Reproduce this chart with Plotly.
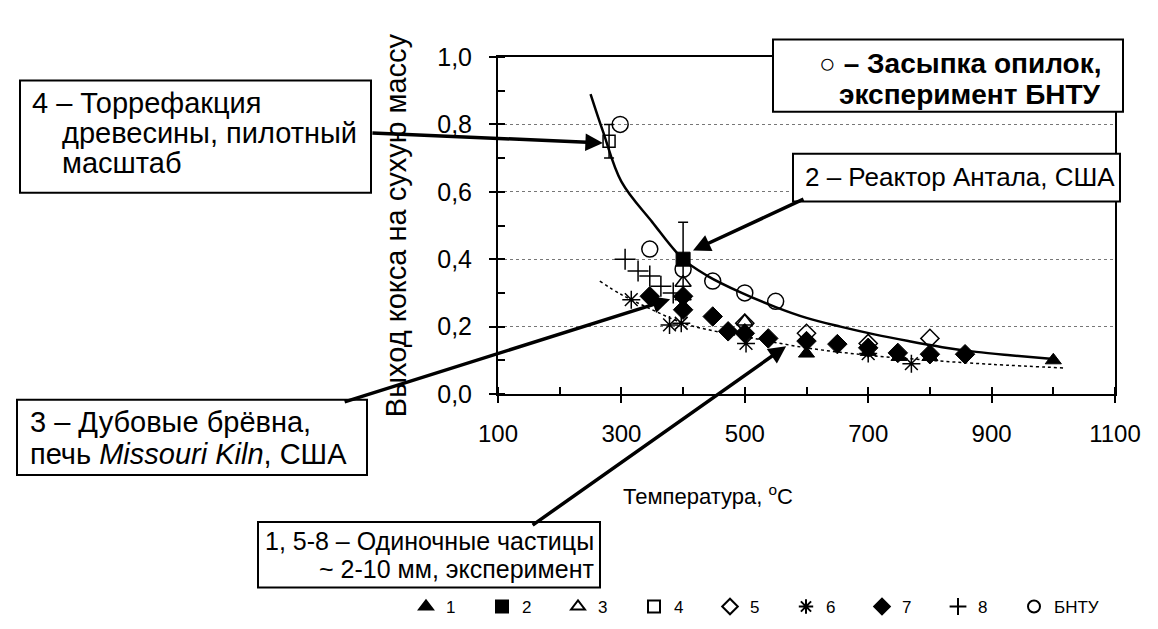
import plotly.graph_objects as go

# ---- axis ticks ----
x_ticks = [100, 200, 300, 400, 500, 600, 700, 800, 900, 1000, 1100]
x_labels = ["100", "", "300", "", "500", "", "700", "", "900", "", "1100"]
y_ticks = [0.0, 0.1, 0.2, 0.3, 0.4, 0.5, 0.6, 0.7, 0.8, 0.9, 1.0]
y_labels = ["0,0", "", "0,2", "", "0,4", "", "0,6", "", "0,8", "", "1,0"]
y_grid = [0.2, 0.4, 0.6, 0.8]

# ---- series ----
s1_x = [600, 700, 750, 800, 1000]
s1_y = [0.12, 0.125, 0.11, 0.11, 0.10]

s2_x = [400]
s2_y = [0.40]
s2_err = [0.11]

s3_x = [400, 400, 500]
s3_y = [0.33, 0.29, 0.215]

s4_x = [280]
s4_y = [0.75]
s4_err = [0.05]

s5_x = [500, 600, 700, 800]
s5_y = [0.21, 0.18, 0.15, 0.165]

s6_x = [316, 378, 397, 502, 700, 770]
s6_y = [0.28, 0.205, 0.21, 0.15, 0.12, 0.09]

s7_x = [346, 400, 400, 448, 473, 500, 538, 600, 650, 700, 748, 800, 857]
s7_y = [0.29, 0.29, 0.25, 0.23, 0.186, 0.18, 0.165, 0.157, 0.148, 0.137, 0.122, 0.118, 0.118]

s8_x = [306, 327, 346, 364, 384]
s8_y = [0.40, 0.365, 0.35, 0.32, 0.30]

bntu_x = [298, 346, 400, 448, 500, 550]
bntu_y = [0.80, 0.43, 0.37, 0.335, 0.30, 0.275]

# trend lines: solid (BNTU) and dotted (particles)
fit_x = [250, 270, 300, 350, 400, 440, 495, 550, 600, 655, 710, 765, 820, 875, 930, 1000]
fit_y = [0.89, 0.78, 0.63, 0.51, 0.40, 0.35, 0.30, 0.258, 0.226, 0.20, 0.177, 0.157, 0.139, 0.125, 0.115, 0.104]

dot_x = [265, 300, 350, 400, 450, 500, 600, 700, 800, 900, 1020]
dot_y = [0.335, 0.295, 0.25, 0.21, 0.187, 0.17, 0.137, 0.115, 0.10, 0.088, 0.077]

FONT = "Liberation Sans, Arial, sans-serif"

fig = go.Figure()

fig.add_trace(go.Scatter(x=dot_x, y=dot_y, mode="lines", line=dict(color="black", width=1.5, dash="3px,3px"),
                         line_shape="spline", showlegend=False, hoverinfo="skip"))
fig.add_trace(go.Scatter(x=fit_x, y=fit_y, mode="lines", line=dict(color="black", width=2.5),
                         line_shape="spline", showlegend=False, hoverinfo="skip"))

def mk(symbol, size, filled=True):
    if filled:
        return dict(symbol=symbol, size=size, color="black", line=dict(color="black", width=1))
    return dict(symbol=symbol, size=size, color="black", line=dict(color="black", width=1.5))

fig.add_trace(go.Scatter(x=s1_x, y=s1_y, mode="markers", name="1", marker=mk("triangle-up", 14)))
fig.add_trace(go.Scatter(x=s2_x, y=s2_y, mode="markers", name="2", marker=mk("square", 14),
                         error_y=dict(type="data", array=s2_err, color="black", thickness=1.5, width=5)))
fig.add_trace(go.Scatter(x=s3_x, y=s3_y, mode="markers", name="3", marker=mk("triangle-up-open", 14, False)))
fig.add_trace(go.Scatter(x=s4_x, y=s4_y, mode="markers", name="4", marker=mk("square-open", 12, False),
                         error_y=dict(type="data", array=s4_err, color="black", thickness=1.5, width=5)))
fig.add_trace(go.Scatter(x=s5_x, y=s5_y, mode="markers", name="5", marker=mk("diamond-open", 14, False)))
fig.add_trace(go.Scatter(x=s6_x, y=s6_y, mode="markers", name="6", marker=mk("asterisk-open", 15, False)))
fig.add_trace(go.Scatter(x=s7_x, y=s7_y, mode="markers", name="7", marker=mk("diamond", 15)))
fig.add_trace(go.Scatter(x=s8_x, y=s8_y, mode="markers", name="8", marker=mk("cross-thin-open", 15, False)))
fig.add_trace(go.Scatter(x=bntu_x, y=bntu_y, mode="markers", name="БНТУ", marker=mk("circle-open", 16, False)))
# empty spacer entry so the last legend label is not clipped
fig.add_trace(go.Scatter(x=[None], y=[None], mode="markers", name=" ",
                         marker=dict(color="rgba(0,0,0,0)", line=dict(width=0, color="rgba(0,0,0,0)")),
                         hoverinfo="skip"))

# plot area in pixels
L, R, T, B = 490, 51, 49, 235
W, H = 1158, 629
PW, PH = W - L - R, H - T - B

def px(xp):
    return (xp - L) / PW

def py(yp):
    return (H - B - yp) / PH

def rect(x0, y0, x1, y1):
    fig.add_shape(type="rect", xref="paper", yref="paper", x0=px(x0), x1=px(x1), y0=py(y0), y1=py(y1),
                  line=dict(color="black", width=2), fillcolor="white", layer="above")

def line_text(text, x, y, anchor="left", size=29, bold=False):
    if bold:
        text = "<b>" + text + "</b>"
    fig.add_annotation(text=text, xref="paper", yref="paper", x=px(x), y=py(y),
                       xanchor=anchor, yanchor="middle", showarrow=False,
                       font=dict(family=FONT, size=size, color="black"))

def arrow(xt, yt, ax, ay):
    fig.add_annotation(text="", x=xt, y=yt, xref="x", yref="y", ax=ax, ay=ay,
                       showarrow=True, arrowhead=2, arrowsize=1, arrowwidth=3.5,
                       arrowcolor="black", standoff=0)

arrow(270, 0.745, -232, -10)
arrow(416, 0.426, 112, -52)
arrow(379, 0.281, -327, 103)
arrow(567, 0.142, -255, 180)

# boxes
rect(765, 31, 1115, 105)
line_text("○ – Засыпка опилок,", 1095, 56, anchor="right", size=28, bold=True)
line_text("эксперимент БНТУ", 1095, 87, anchor="right", size=28, bold=True)

rect(12, 73, 363, 188)
line_text("4 – Торрефакция", 22, 96)
line_text("древесины, пилотный", 52, 127)
line_text("масштаб", 52, 158)

rect(785, 148, 1112, 197)
line_text("2 – Реактор Антала, США", 795, 172, size=26)

rect(9, 400, 359, 477)
line_text("3 – Дубовые брёвна,", 20, 423)
line_text("печь <i>Missouri Kiln</i>, США", 20, 455)

rect(250, 525, 592, 592)
line_text("1, 5-8 – Одиночные частицы", 588, 545, anchor="right", size=25)
line_text("~ 2-10 мм, эксперимент", 588, 573, anchor="right", size=25)

# x-axis title (placed left of centre as in the reference)
fig.add_annotation(text="Температура, <sup>o</sup>C", xref="paper", yref="paper", x=px(700), y=py(497),
                   xanchor="center", yanchor="middle", showarrow=False,
                   font=dict(family=FONT, size=22, color="black"))

fig.update_layout(
    width=W, height=H, autosize=False,
    margin=dict(l=L, r=R, t=T, b=B, pad=0),
    plot_bgcolor="white", paper_bgcolor="white",
    font=dict(family=FONT, size=22, color="black"),
    showlegend=True,
    legend=dict(orientation="h", x=px(413), y=py(612), xanchor="left", yanchor="middle",
                font=dict(family=FONT, size=17, color="black"), itemwidth=30, itemsizing="constant",
                entrywidth=31, entrywidthmode="pixels", bgcolor="rgba(0,0,0,0)"),
    xaxis=dict(range=[100, 1100], tickvals=x_ticks, ticktext=x_labels, ticks="outside", ticklen=7,
               tickwidth=1.5, tickcolor="black", showline=True, linecolor="black", linewidth=2,
               mirror=True, showgrid=False, zeroline=False,
               tickfont=dict(family=FONT, size=24), ticklabelstandoff=10,
               minor=dict(tickvals=x_ticks, ticks="inside", ticklen=7, tickwidth=1.5, tickcolor="black", showgrid=False)),
    yaxis=dict(range=[0, 1.0], tickvals=y_ticks, ticktext=y_labels, ticks="outside", ticklen=7,
               tickwidth=1.5, tickcolor="black", showline=True, linecolor="black", linewidth=2,
               mirror=True, showgrid=False, zeroline=False,
               tickfont=dict(family=FONT, size=25), ticklabelstandoff=12,
               minor=dict(tickvals=y_ticks, ticks="inside", ticklen=7, tickwidth=1.5, tickcolor="black", showgrid=False),
               title=dict(text="Выход кокса на сухую массу", font=dict(family=FONT, size=29), standoff=22)),
    yaxis2=dict(range=[0, 1.0], overlaying="y", anchor="x", side="left", tickvals=y_grid,
                showticklabels=False, ticks="", showline=False, zeroline=False,
                showgrid=True, gridcolor="#777777", griddash="dot", gridwidth=1.2),
)

# invisible trace to activate the grid axis
fig.add_trace(go.Scatter(x=[100], y=[0], yaxis="y2", mode="markers", marker=dict(opacity=0),
                         showlegend=False, hoverinfo="skip"))

fig.write_html("out.html")
